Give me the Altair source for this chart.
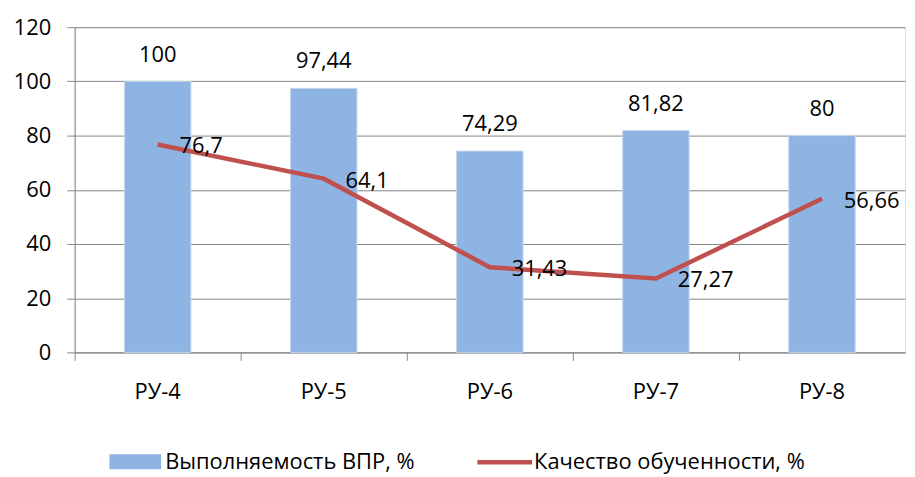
import altair as alt
import pandas as pd

categories = ["РУ-4", "РУ-5", "РУ-6", "РУ-7", "РУ-8"]
vpr = [100, 97.44, 74.29, 81.82, 80]
quality = [76.7, 64.1, 31.43, 27.27, 56.66]
series_bar = "Выполняемость ВПР, %"
series_line = "Качество обученности, %"
y_ticks = [0, 20, 40, 60, 80, 100, 120]


def fmt(v):
    return f"{v:g}".replace(".", ",")


bars_df = pd.DataFrame({"cat": categories, "value": vpr,
                        "label": [fmt(v) for v in vpr], "series": series_bar})
line_df = pd.DataFrame({"cat": categories, "value": quality,
                        "label": [fmt(v) for v in quality], "series": series_line})

FONT = "Open Sans"
FS = 22
GRAY = "#868686"
BLUE = "#8EB4E3"
RED = "#C0504D"

x_enc = alt.X("cat:N", sort=categories,
              scale=alt.Scale(paddingInner=0, paddingOuter=0),
              axis=alt.Axis(title=None, labelAngle=0, bandPosition=0, tickSize=8,
                            domainColor=GRAY, tickColor=GRAY, labelPadding=21,
                            labelFontSize=FS, labelFont=FONT, labelColor="black",
                            grid=False))
y_enc = alt.Y("value:Q", scale=alt.Scale(domain=[0, 120], nice=False),
              axis=alt.Axis(title=None, values=y_ticks, tickSize=8, grid=True,
                            gridColor=GRAY, gridWidth=1, domainColor=GRAY,
                            tickColor=GRAY, labelPadding=16, labelFontSize=FS,
                            labelFont=FONT, labelColor="black"))

bars = alt.Chart(bars_df).mark_bar(
    width=alt.RelativeBandSize(0.4), stroke="#C5D7EE", strokeWidth=1
).encode(
    x=x_enc, y=y_enc,
    color=alt.Color("series:N", scale=alt.Scale(range=[BLUE]),
                    legend=alt.Legend(orient="none", legendX=50, legendY=426, title=None,
                                      padding=0, symbolType="M-3,-0.87H3V0.87H-3Z",
                                      symbolSize=300, symbolStrokeWidth=0,
                                      labelFontSize=FS, labelFont=FONT,
                                      labelColor="black", labelOffset=19, labelLimit=400))
)

bar_labels = alt.Chart(bars_df).mark_text(
    baseline="alphabetic", dy=-20, fontSize=FS, font=FONT, color="black"
).encode(x=alt.X("cat:N", sort=categories), y="value:Q", text="label:N")

line = alt.Chart(line_df).mark_line(strokeWidth=4.5).encode(
    x=alt.X("cat:N", sort=categories), y="value:Q",
    stroke=alt.Stroke("series:N", scale=alt.Scale(range=[RED]),
                      legend=alt.Legend(orient="none", legendX=421, legendY=426, title=None,
                                        padding=0, symbolType="M-3,0H3",
                                        symbolSize=336, symbolStrokeWidth=4.5,
                                        labelFontSize=FS, labelFont=FONT,
                                        labelColor="black", labelOffset=18, labelLimit=400))
)

line_labels = alt.Chart(line_df).mark_text(
    align="left", baseline="middle", dx=22, dy=2, fontSize=FS, font=FONT, color="black"
).encode(x=alt.X("cat:N", sort=categories), y="value:Q", text="label:N")

chart = alt.layer(bars, bar_labels, line, line_labels).properties(
    width=835, height=327,
    autosize=alt.AutoSizeParams(type="none"),
    padding={"left": 67, "top": 18, "right": 2, "bottom": 122},
).configure_view(stroke=None).configure(background="white")

chart.save("out.html", embed_options={"renderer": "svg", "actions": False})
